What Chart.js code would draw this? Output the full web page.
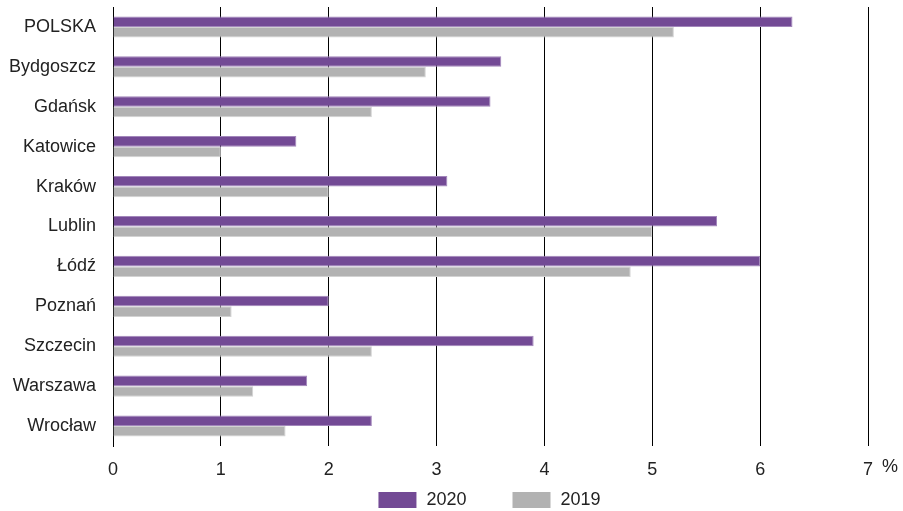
<!DOCTYPE html>
<html>
<head>
<meta charset="utf-8">
<script src="https://cdn.jsdelivr.net/npm/chart.js@4/dist/chart.umd.min.js"></script>
<style>
html,body{margin:0;padding:0;background:#fff;}
#wrap{width:903px;height:511px;}
</style>
</head>
<body>
<div id="wrap"><canvas id="c" width="903" height="511"></canvas></div>
<script>
const categories = ["POLSKA","Bydgoszcz","Gdańsk","Katowice","Kraków","Lublin","Łódź","Poznań","Szczecin","Warszawa","Wrocław"];
const values2020 = [6.3,3.6,3.5,1.7,3.1,5.6,6.0,2.0,3.9,1.8,2.4];
const values2019 = [5.2,2.9,2.4,1.0,2.0,5.0,4.8,1.1,2.4,1.3,1.6];
const xTicks = [0,1,2,3,4,5,6,7];
const unitLabel = "%";
const seriesNames = ["2020","2019"];

const FONT = "'Liberation Sans', Arial, sans-serif";
const FSIZE = 18;
const TEXT = "#222";

const extrasPlugin = {
  id: 'extrasPlugin',
  afterDraw(chart) {
    const x = chart.scales.x;
    const ctx = chart.ctx;
    ctx.save();
    ctx.font = FSIZE + "px " + FONT;
    ctx.fillStyle = TEXT;
    ctx.textBaseline = "middle";
    ctx.textAlign = "center";
    const px = x.getPixelForValue(xTicks[xTicks.length-1]);
    ctx.fillText(unitLabel, px + 22, 467);
    const boxW = 38, boxH = 16, gap = 10, itemGap = 46;
    const ds = chart.data.datasets;
    const widths = ds.map(d => boxW + gap + ctx.measureText(d.label).width);
    const total = widths.reduce((a,b)=>a+b,0) + itemGap*(ds.length-1);
    const area = chart.chartArea;
    let cx = (area.left + area.right)/2 - total/2 - 1;
    const cy = 500;
    ctx.textAlign = "left";
    ds.forEach((d,i) => {
      ctx.fillStyle = d.backgroundColor;
      ctx.fillRect(cx, cy - boxH/2, boxW, boxH);
      ctx.fillStyle = TEXT;
      ctx.fillText(d.label, cx + boxW + gap, cy);
      cx += widths[i] + itemGap;
    });
    ctx.restore();
  }
};

new Chart(document.getElementById('c'), {
  type: 'bar',
  data: {
    labels: categories,
    datasets: [
      {label: seriesNames[0], data: values2020, backgroundColor: '#734a95', borderColor: '#a286bb', borderWidth: 1, categoryPercentage: 0.53, barPercentage: 1.0},
      {label: seriesNames[1], data: values2019, backgroundColor: '#b2b2b2', borderColor: '#d2d2d2', borderWidth: 1, categoryPercentage: 0.53, barPercentage: 1.0}
    ]
  },
  options: {
    indexAxis: 'y',
    responsive: false,
    animation: false,
    devicePixelRatio: 1,
    layout: {padding: {top: 7, right: 35, left: 0, bottom: 30}},
    plugins: {
      legend: {display: false},
      tooltip: {enabled: false}
    },
    scales: {
      x: {
        min: 0, max: 7,
        afterBuildTicks(scale) { scale.ticks = xTicks.map(v => ({value: v})); },
        afterFit(scale) { scale.height = 35; scale.paddingLeft = 0; scale.paddingRight = 0; },
        ticks: {font: {family: FONT, size: FSIZE}, color: TEXT, padding: 13, maxRotation: 0},
        grid: {color: '#000', lineWidth: 1, drawTicks: false},
        border: {display: false}
      },
      y: {
        afterFit(scale) { scale.width = 113; scale.paddingTop = 0; scale.paddingBottom = 0; },
        ticks: {font: {family: FONT, size: FSIZE}, color: TEXT, padding: 17},
        grid: {display: false, drawTicks: false},
        border: {display: true, color: '#000', width: 1}
      }
    }
  },
  plugins: [extrasPlugin]
});
</script>
</body>
</html>
